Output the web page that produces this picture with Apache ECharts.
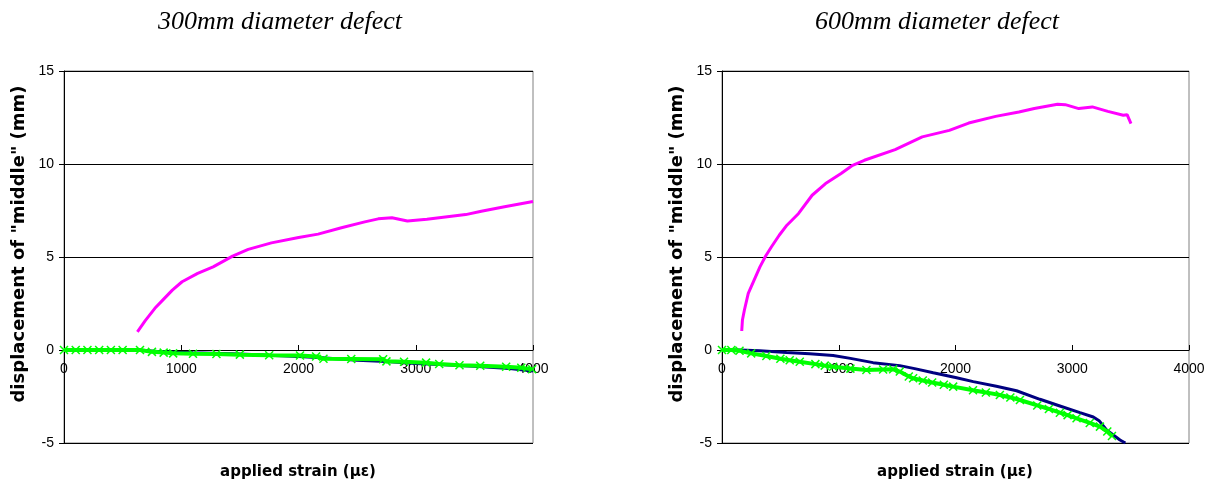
<!DOCTYPE html>
<html>
<head>
<meta charset="utf-8">
<script src="https://cdn.jsdelivr.net/npm/echarts@6/dist/echarts.min.js"></script>
<style>
  html, body { margin: 0; padding: 0; background: #fff; }
  #chart { width: 1216px; height: 486px; }
</style>
</head>
<body>
<div id="chart"></div>
<script>
// values: [strain (µε), displacement (mm)]
const titles = ['300mm diameter defect', '600mm diameter defect'];
const xTitle = 'applied strain (\u03bc\u03b5)';
const yTitle = 'displacement of "middle" (mm)';

const pink300 = [
  [626, 0.98], [693, 1.58], [775, 2.24], [842, 2.68], [924, 3.22], [1007, 3.67],
  [1140, 4.12], [1272, 4.47], [1438, 5.05], [1571, 5.41], [1769, 5.76], [2001, 6.05],
  [2167, 6.23], [2366, 6.57], [2565, 6.89], [2680, 7.05], [2797, 7.11], [2929, 6.94],
  [3095, 7.03], [3426, 7.28], [3559, 7.46], [3757, 7.7], [4000, 7.98]
];
const blue300 = [
  [0, 0], [640, 0], [800, -0.08], [950, -0.12], [1100, -0.15], [1500, -0.22],
  [2000, -0.35], [2200, -0.42], [2500, -0.55], [2750, -0.62], [3000, -0.72],
  [3200, -0.78], [3500, -0.88], [3800, -1.0], [4000, -1.13]
];
const green300 = [
  [0, 0], [100, 0], [200, 0], [300, 0], [400, 0], [500, 0], [648, 0], [750, -0.1],
  [850, -0.14], [931, -0.18], [1100, -0.2], [1300, -0.22], [1500, -0.25], [1750, -0.28],
  [2013, -0.3], [2150, -0.35], [2213, -0.47], [2450, -0.48], [2722, -0.5], [2750, -0.61],
  [2900, -0.63], [3088, -0.68], [3200, -0.75], [3373, -0.82], [3550, -0.85],
  [3771, -0.9], [3900, -0.95], [3993, -1.04]
];

const pink600 = [
  [169, 1.02], [175, 1.61], [192, 2.15], [225, 3.04], [275, 3.76], [325, 4.47],
  [374, 5.05], [424, 5.55], [490, 6.17], [556, 6.71], [656, 7.34], [772, 8.32],
  [887, 8.95], [1020, 9.49], [1119, 9.93], [1219, 10.2], [1483, 10.77], [1715, 11.46],
  [1947, 11.81], [2113, 12.2], [2344, 12.56], [2543, 12.8], [2675, 12.98], [2874, 13.21],
  [2940, 13.19], [3056, 12.98], [3172, 13.07], [3305, 12.83], [3437, 12.62],
  [3470, 12.65], [3503, 12.17]
];
const blue600 = [
  [0, 0], [150, 0], [323, -0.04], [552, -0.14], [750, -0.2], [952, -0.3], [1100, -0.45],
  [1294, -0.68], [1523, -0.84], [1650, -1.0], [1809, -1.22], [2000, -1.48], [2152, -1.7],
  [2350, -1.95], [2523, -2.19], [2723, -2.65], [2894, -3.01], [3066, -3.37], [3180, -3.6],
  [3230, -3.8], [3294, -4.3], [3409, -4.84], [3455, -5.0]
];
const green600 = [
  [0, 0], [80, 0], [150, -0.04], [250, -0.18], [380, -0.32], [500, -0.47], [580, -0.55],
  [666, -0.63], [800, -0.76], [880, -0.84], [952, -0.9], [1100, -1.0], [1237, -1.08],
  [1380, -1.05], [1466, -1.04], [1523, -1.16], [1600, -1.42], [1637, -1.52], [1720, -1.64],
  [1800, -1.75], [1900, -1.87], [1980, -1.97], [2150, -2.16], [2260, -2.28], [2380, -2.42],
  [2470, -2.55], [2552, -2.69], [2700, -2.98], [2800, -3.17], [2894, -3.37], [2960, -3.5],
  [3037, -3.67], [3150, -3.92], [3237, -4.12], [3300, -4.38], [3340, -4.62]
];

const xTicks = { min: 0, max: 4000, interval: 1000 };
const yTicks = { min: -5, max: 15, interval: 5 };

const chart = echarts.init(document.getElementById('chart'));

const tickFont = { color: '#000', fontSize: 14, fontFamily: 'Liberation Sans, Arial, sans-serif' };

// x axis sits on the y=0 line: 1/4 of the 372px plot height above the bottom
function xAxis(idx) {
  return {
    type: 'value', gridIndex: idx, ...xTicks, offset: -93,
    axisLine: { onZero: false, lineStyle: { color: '#000', width: 1 } },
    axisTick: { inside: true, length: 5, lineStyle: { color: '#000' } },
    axisLabel: { ...tickFont, margin: 12, formatter: v => String(v) },
    splitLine: { show: false }
  };
}
function yAxis(idx) {
  return {
    type: 'value', gridIndex: idx, ...yTicks,
    axisLine: { show: true, lineStyle: { color: '#000', width: 1 } },
    axisTick: { show: true, length: 5, lineStyle: { color: '#000' } },
    axisLabel: { ...tickFont, margin: 10 },
    splitLine: { lineStyle: { color: '#000', width: 1 } }
  };
}
function line(idx, data, color, width) {
  return {
    type: 'line', xAxisIndex: idx, yAxisIndex: idx, data,
    showSymbol: false, smooth: false, animation: false,
    lineStyle: { color, width }, itemStyle: { color }
  };
}
function crosses(idx, data) {
  return {
    type: 'line', xAxisIndex: idx, yAxisIndex: idx, data, animation: false,
    symbol: 'path://M0,0L10,10M10,0L0,10', symbolSize: 8,
    lineStyle: { color: '#00ff00', width: 4 },
    itemStyle: { color: 'none', borderColor: '#00ff00', borderWidth: 1.5 }
  };
}

const axisTitleFont = 'bold 15px "DejaVu Sans", sans-serif';
const yTitleFont = 'bold 18px "DejaVu Sans", sans-serif';
const mainTitleFont = 'italic 26px "Liberation Serif", "Times New Roman", serif';

function txt(x, y, text, font, rot) {
  return {
    type: 'text', x, y, rotation: rot || 0, silent: true,
    style: { text, font, fill: '#000', align: 'center', verticalAlign: 'middle' }
  };
}

chart.setOption({
  backgroundColor: '#fff',
  animation: false,
  grid: [
    { left: 64, right: 683, top: 71, bottom: 43, show: true, borderColor: '#808080', borderWidth: 1, backgroundColor: '#fff' },
    { left: 722, right: 27, top: 71, bottom: 43, show: true, borderColor: '#808080', borderWidth: 1, backgroundColor: '#fff' }
  ],
  xAxis: [xAxis(0), xAxis(1)],
  yAxis: [yAxis(0), yAxis(1)],
  series: [
    line(0, pink300, '#ff00ff', 3),
    line(0, blue300, '#000080', 3),
    crosses(0, green300),
    line(1, pink600, '#ff00ff', 3),
    line(1, blue600, '#000080', 3),
    crosses(1, green600)
  ],
  graphic: [
    txt(280, 22, titles[0], mainTitleFont),
    txt(937, 22, titles[1], mainTitleFont),
    txt(298, 472, xTitle, axisTitleFont),
    txt(955, 472, xTitle, axisTitleFont),
    txt(19, 244, yTitle, yTitleFont, Math.PI / 2),
    txt(677, 244, yTitle, yTitleFont, Math.PI / 2)
  ]
});
</script>
</body>
</html>
